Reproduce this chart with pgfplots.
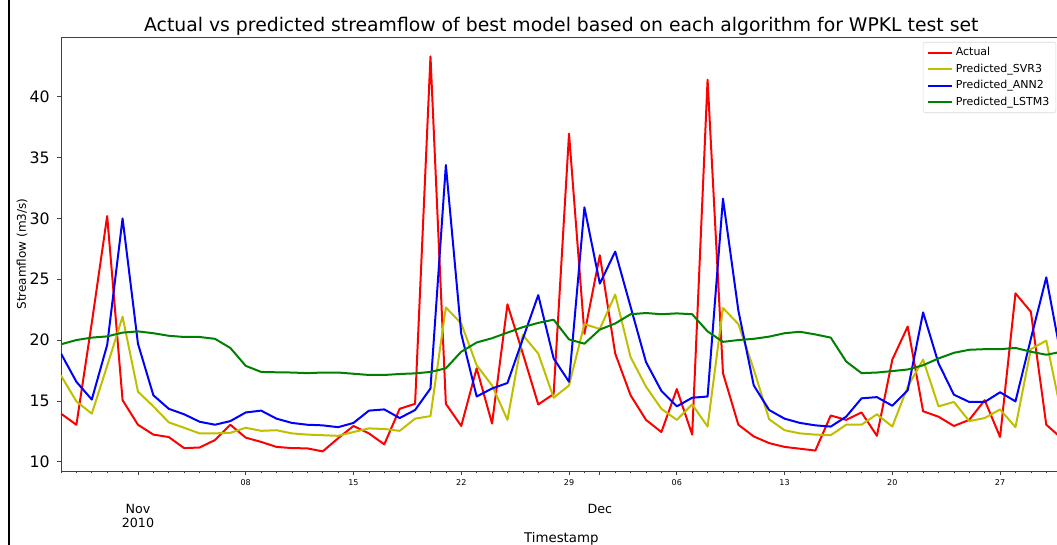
\documentclass[border=0pt]{standalone}
\usepackage{fontspec}
\setmainfont{DejaVu Sans}
\usepackage{pgfplots}
\pgfplotsset{compat=1.18}
\usepackage{pgfplotstable}

\definecolor{mplred}{rgb}{1,0,0}
\definecolor{mplyellow}{rgb}{0.75,0.75,0}
\definecolor{mplblue}{rgb}{0,0,1}
\definecolor{mplgreen}{rgb}{0,0.5,0}

% day = days counted from 1 Nov 2010; daily streamflow (m3/s)
\pgfplotstableread{
day actual svr ann lstm
-5 13.95 17.08 18.89 19.65
-4 13.04 14.96 16.57 20.00
-3 21.41 13.95 15.11 20.20
-2 30.19 17.88 19.60 20.30
-1 15.06 21.92 29.99 20.61
0 13.04 15.76 19.70 20.71
1 12.23 14.55 15.46 20.56
2 12.03 13.24 14.35 20.35
3 11.12 12.79 13.90 20.25
4 11.17 12.33 13.29 20.25
5 11.78 12.33 13.04 20.10
6 13.04 12.38 13.34 19.35
7 11.98 12.79 14.05 17.88
8 11.63 12.54 14.20 17.38
9 11.22 12.59 13.54 17.35
10 11.12 12.33 13.19 17.33
11 11.10 12.23 13.04 17.28
12 10.85 12.18 12.99 17.33
13 11.93 12.13 12.84 17.33
14 12.94 12.44 13.19 17.23
15 12.33 12.74 14.20 17.13
16 11.43 12.69 14.30 17.13
17 14.35 12.54 13.59 17.21
18 14.76 13.54 14.25 17.26
19 43.31 13.75 16.02 17.38
20 14.76 22.68 34.38 17.68
21 12.94 21.36 20.51 19.04
22 17.68 17.93 15.36 19.80
23 13.14 16.27 16.02 20.15
24 22.93 13.44 16.47 20.61
25 18.89 20.41 20.10 21.06
26 14.71 18.89 23.69 21.41
27 15.56 15.26 18.49 21.67
28 36.95 16.27 16.57 20.05
29 20.51 21.31 30.90 19.70
30 26.97 20.91 24.64 20.86
31 18.89 23.74 27.27 21.36
32 15.46 18.59 22.73 22.12
33 13.44 16.17 18.19 22.22
34 12.44 14.35 15.82 22.12
35 15.97 13.44 14.55 22.19
36 12.23 14.71 15.26 22.12
37 41.39 12.89 15.36 20.71
38 17.28 22.63 31.61 19.85
39 13.04 21.31 22.42 20.00
40 12.08 17.58 16.27 20.10
41 11.53 13.49 14.25 20.28
42 11.22 12.59 13.54 20.56
43 11.07 12.33 13.19 20.68
44 10.92 12.23 12.99 20.46
45 13.80 12.18 12.89 20.20
46 13.44 13.04 13.70 18.24
47 14.05 13.04 15.21 17.28
48 12.13 13.90 15.31 17.33
49 18.39 12.89 14.60 17.45
50 21.11 16.17 15.87 17.58
51 14.15 18.39 22.27 17.93
52 13.70 14.55 18.09 18.49
53 12.94 14.91 15.51 18.95
54 13.44 13.34 14.91 19.20
55 15.06 13.59 14.91 19.25
56 12.03 14.30 15.71 19.25
57 23.84 12.84 14.96 19.35
58 22.32 19.25 20.10 19.04
59 13.04 19.95 25.15 18.79
60 11.93 13.85 18.39 19.04
}\flowdata

\begin{document}
\begin{tikzpicture}
\begin{axis}[
  name=ax,
  scale only axis,
  width=750.5pt, height=325.5pt,
  xmin=-5, xmax=60, ymin=9.24, ymax=44.9,
  axis line style={black!75, line width=0.6pt},
  tick align=outside,
  xtick pos=lower, ytick pos=lower,
  tick style={black!75, line width=0.5pt},
  major tick length=3pt, minor tick length=1.6pt,
  /pgf/number format/assume math mode=true,
  ytick={10,15,...,40},
  yticklabel style={font=\fontsize{11.8}{11.8}\selectfont, xshift=-2pt},
  xtick={7,14,21,28,35,42,49,56},
  xticklabels={08,15,22,29,06,13,20,27},
  xticklabel style={font=\fontsize{6}{6}\selectfont},
  minor xtick={-5,...,60},
  extra x ticks={0,30},
  extra x tick labels={{Nov\\2010},{Dec}},
  extra x tick style={xticklabel style={font=\fontsize{9.5}{10.8}\selectfont, align=center, yshift=-18.25pt}},
  every axis title/.style={at={(axis description cs:0.5,1)}, anchor=base, yshift=3.75pt,
    font=\fontsize{14.1}{16}\selectfont},
  title={Actual vs predicted streamflow of best model based on each algorithm for WPKL test set},
  every axis x label/.style={at={([yshift=-51pt]axis description cs:0.5,0)}, anchor=center,
    font=\fontsize{10}{12}\selectfont},
  xlabel={Timestamp},
  every axis y label/.style={at={([xshift=-29.25pt]axis description cs:0,0.5)}, rotate=90, anchor=center,
    font=\fontsize{9}{11}\selectfont},
  ylabel={Streamflow (m3/s)},
  legend cell align=left,
  legend image code/.code={\draw[#1] (0pt,0pt) -- (18pt,0pt);},
  legend style={at={(axis description cs:1,1)}, anchor=north east, xshift=-4.1pt, yshift=-3.75pt,
    draw=black!15, rounded corners=1.5pt, fill=white, inner xsep=3pt, inner ysep=2pt,
    font=\fontsize{8.25}{9.9}\selectfont, row sep=0.6pt},
  every axis plot/.append style={line width=1.5pt, line join=round, mark=none},
]
\addplot[mplred] table[x=day, y=actual] {\flowdata};
\addlegendentry{Actual}
\addplot[mplyellow] table[x=day, y=svr] {\flowdata};
\addlegendentry{Predicted\_SVR3}
\addplot[mplblue] table[x=day, y=ann] {\flowdata};
\addlegendentry{Predicted\_ANN2}
\addplot[mplgreen] table[x=day, y=lstm] {\flowdata};
\addlegendentry{Predicted\_LSTM3}
\end{axis}
\pgfresetboundingbox
\path[use as bounding box] ([shift={(-45.75pt,-55.5pt)}]ax.south west) rectangle ([shift={(747pt,353.25pt)}]ax.south west);
\draw[black, line width=1.1pt] ([shift={(-39pt,-55.5pt)}]ax.south west) -- ([shift={(-39pt,353.25pt)}]ax.south west);
\end{tikzpicture}
\end{document}
